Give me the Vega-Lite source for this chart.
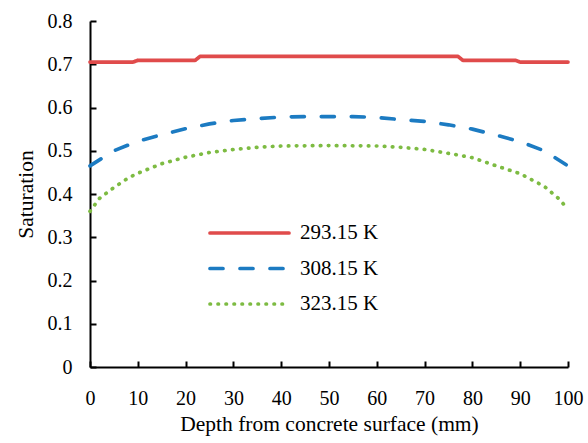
{
  "$schema": "https://vega.github.io/schema/vega-lite/v6.json",
  "width": 478,
  "height": 346,
  "autosize": {"type": "none"},
  "padding": {"left": 90, "top": 21, "right": 20, "bottom": 76},
  "background": "white",
  "config": {
    "view": {"stroke": null},
    "font": "Liberation Serif"
  },
  "data": {
    "values": [
      {"T": "293.15 K", "x": 0, "s": 0.705},
      {"T": "293.15 K", "x": 9, "s": 0.705},
      {"T": "293.15 K", "x": 10, "s": 0.709},
      {"T": "293.15 K", "x": 22, "s": 0.709},
      {"T": "293.15 K", "x": 23, "s": 0.718},
      {"T": "293.15 K", "x": 77, "s": 0.718},
      {"T": "293.15 K", "x": 78, "s": 0.709},
      {"T": "293.15 K", "x": 89, "s": 0.709},
      {"T": "293.15 K", "x": 90, "s": 0.705},
      {"T": "293.15 K", "x": 100, "s": 0.705},
      {"T": "308.15 K", "x": 0, "s": 0.465},
      {"T": "308.15 K", "x": 5, "s": 0.5},
      {"T": "308.15 K", "x": 10, "s": 0.522},
      {"T": "308.15 K", "x": 15, "s": 0.537},
      {"T": "308.15 K", "x": 20, "s": 0.551},
      {"T": "308.15 K", "x": 25, "s": 0.562},
      {"T": "308.15 K", "x": 30, "s": 0.57},
      {"T": "308.15 K", "x": 35, "s": 0.574},
      {"T": "308.15 K", "x": 40, "s": 0.578},
      {"T": "308.15 K", "x": 45, "s": 0.579},
      {"T": "308.15 K", "x": 50, "s": 0.579},
      {"T": "308.15 K", "x": 55, "s": 0.579},
      {"T": "308.15 K", "x": 60, "s": 0.577},
      {"T": "308.15 K", "x": 65, "s": 0.572},
      {"T": "308.15 K", "x": 70, "s": 0.568},
      {"T": "308.15 K", "x": 75, "s": 0.56},
      {"T": "308.15 K", "x": 80, "s": 0.55},
      {"T": "308.15 K", "x": 85, "s": 0.536},
      {"T": "308.15 K", "x": 90, "s": 0.521},
      {"T": "308.15 K", "x": 95, "s": 0.5},
      {"T": "308.15 K", "x": 100, "s": 0.465},
      {"T": "323.15 K", "x": 0, "s": 0.36},
      {"T": "323.15 K", "x": 2, "s": 0.39},
      {"T": "323.15 K", "x": 5, "s": 0.415},
      {"T": "323.15 K", "x": 8, "s": 0.437},
      {"T": "323.15 K", "x": 10, "s": 0.448},
      {"T": "323.15 K", "x": 15, "s": 0.47},
      {"T": "323.15 K", "x": 20, "s": 0.485},
      {"T": "323.15 K", "x": 25, "s": 0.496},
      {"T": "323.15 K", "x": 30, "s": 0.503},
      {"T": "323.15 K", "x": 35, "s": 0.508},
      {"T": "323.15 K", "x": 40, "s": 0.511},
      {"T": "323.15 K", "x": 50, "s": 0.512},
      {"T": "323.15 K", "x": 60, "s": 0.511},
      {"T": "323.15 K", "x": 65, "s": 0.508},
      {"T": "323.15 K", "x": 70, "s": 0.503},
      {"T": "323.15 K", "x": 75, "s": 0.494},
      {"T": "323.15 K", "x": 80, "s": 0.484},
      {"T": "323.15 K", "x": 85, "s": 0.465},
      {"T": "323.15 K", "x": 90, "s": 0.447},
      {"T": "323.15 K", "x": 95, "s": 0.418},
      {"T": "323.15 K", "x": 98, "s": 0.39},
      {"T": "323.15 K", "x": 100, "s": 0.365}
    ]
  },
  "mark": {"type": "line", "strokeWidth": 3.7, "strokeCap": "round", "strokeJoin": "round"},
  "encoding": {
    "x": {
      "field": "x", "type": "quantitative",
      "scale": {"domain": [0, 100], "nice": false, "zero": false},
      "axis": {
        "title": "Depth from concrete surface (mm)",
        "values": [0, 10, 20, 30, 40, 50, 60, 70, 80, 90, 100],
        "grid": false, "domainColor": "black", "domainWidth": 2,
        "tickColor": "black", "tickWidth": 2, "tickSize": -6,
        "labelFont": "Liberation Serif", "labelFontSize": 20, "labelColor": "black",
        "labelPadding": 27, "labelFlush": false,
        "titleFont": "Liberation Serif", "titleFontSize": 21.5, "titleFontWeight": "normal",
        "titleColor": "black", "titlePadding": 5
      }
    },
    "y": {
      "field": "s", "type": "quantitative",
      "scale": {"domain": [0, 0.8], "nice": false},
      "axis": {
        "title": "Saturation",
        "values": [0, 0.1, 0.2, 0.3, 0.4, 0.5, 0.6, 0.7, 0.8],
        "format": ".1~f",
        "grid": false, "domainColor": "black", "domainWidth": 2,
        "tickColor": "black", "tickWidth": 2, "tickSize": -6,
        "labelFont": "Liberation Serif", "labelFontSize": 20, "labelColor": "black",
        "labelPadding": 24, "labelFlush": false,
        "titleFont": "Liberation Serif", "titleFontSize": 21.5, "titleFontWeight": "normal",
        "titleColor": "black", "titlePadding": 10
      }
    },
    "color": {
      "field": "T", "type": "nominal",
      "scale": {"domain": ["293.15 K", "308.15 K", "323.15 K"], "range": ["#E04B4B", "#1C7BC2", "#7DBB42"]},
      "legend": {
        "title": null, "orient": "none", "legendX": 118, "legendY": 200,
        "symbolType": "stroke", "symbolSize": 6241, "symbolStrokeWidth": 3.7,
        "clipHeight": 24,
        "labelFont": "Liberation Serif", "labelFontSize": 21, "labelColor": "black",
        "labelOffset": 9, "rowPadding": 11.5,
        "encode": {"symbols": {"update": {"strokeCap": {"value": "round"}}}}
      }
    },
    "strokeDash": {
      "field": "T", "type": "nominal",
      "scale": {"domain": ["293.15 K", "308.15 K", "323.15 K"], "range": [[1, 0], [13, 17], [0.5, 7.5]]},
      "legend": {
        "title": null, "orient": "none", "legendX": 118, "legendY": 200,
        "symbolType": "stroke", "symbolSize": 6241, "symbolStrokeWidth": 3.7,
        "clipHeight": 24,
        "labelFont": "Liberation Serif", "labelFontSize": 21, "labelColor": "black",
        "labelOffset": 9, "rowPadding": 11.5,
        "encode": {"symbols": {"update": {"strokeCap": {"value": "round"}}}}
      }
    }
  }
}
